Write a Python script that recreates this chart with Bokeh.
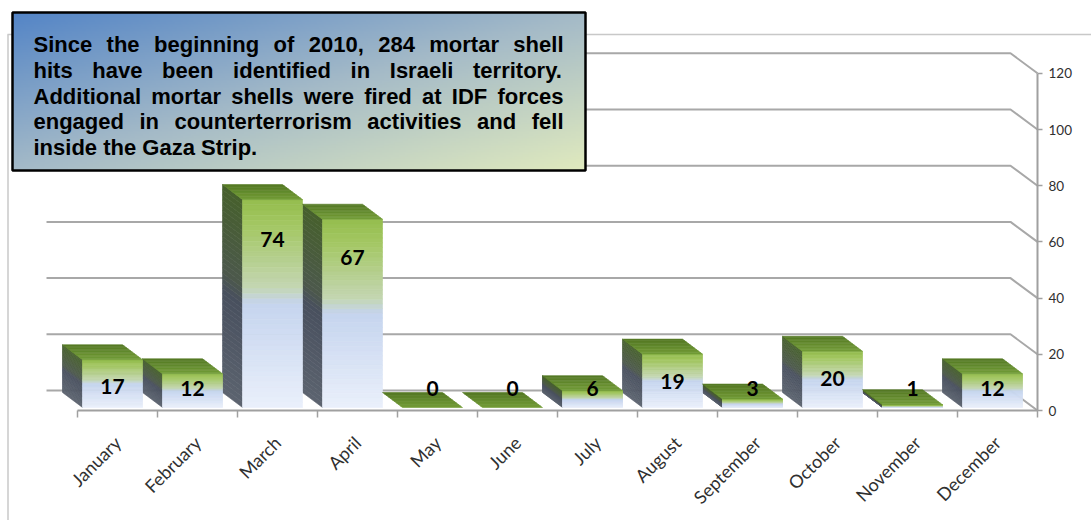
import numpy as np
from bokeh.plotting import figure
from bokeh.models import Range1d, LinearAxis, FixedTicker
from bokeh.core.properties import value
from bokeh.embed import file_html
from bokeh.resources import INLINE

# ---------------- data ----------------
MONTHS = ["January", "February", "March", "April", "May", "June", "July",
          "August", "September", "October", "November", "December"]
HITS = [17, 12, 74, 67, 0, 0, 6, 19, 3, 20, 1, 12]
Y_TICKS = [0, 20, 40, 60, 80, 100, 120]
NOTE_LINES = [
    "Since the beginning of 2010, 284 mortar shell",
    "hits have been identified in Israeli territory.",
    "Additional mortar shells were fired at IDF forces",
    "engaged in counterterrorism activities and fell",
    "inside the Gaza Strip.",
]

# ---------------- layout ----------------
W, H = 1091, 520
PX_X = 80.0     # pixels per category
PX_Y = 2.81     # pixels per unit
X0_PX = 77.0    # canvas x of first category boundary
Y0_PX = 410.0   # canvas y of value 0 on the front plane


def dx(px):
    return px / PX_X


def dy(px):
    return px / PX_Y


def cx(px):
    return (px - X0_PX) / PX_X


def cy(px):
    return (Y0_PX - px) / PX_Y


def mix(stops, f):
    for (p0, c0), (p1, c1) in zip(stops[:-1], stops[1:]):
        if f <= p1:
            t = 0 if p1 == p0 else (f - p0) / (p1 - p0)
            t = min(max(t, 0), 1)
            return tuple(c0[k] + (c1[k] - c0[k]) * t for k in range(3))
    return stops[-1][1]


def hexc(c):
    return "#%02x%02x%02x" % tuple(int(round(v)) for v in c)


p = figure(width=W, height=H, output_backend="svg", toolbar_location=None,
           x_axis_location=None, y_axis_location=None, min_border=0,
           x_range=Range1d(-X0_PX / PX_X, (W - X0_PX) / PX_X),
           y_range=Range1d((Y0_PX - H) / PX_Y, Y0_PX / PX_Y))
p.grid.visible = False
p.outline_line_color = None
p.background_fill_color = "white"
p.border_fill_color = "white"

# chart-area border
p.segment(x0=[cx(7), cx(7.5)], y0=[cy(34), cy(34)],
          x1=[cx(W), cx(7.5)], y1=[cy(34), cy(H)],
          line_color="#c8c8c8", line_width=1.5)

# back wall gridlines with the diagonal return to the front axis
N_CAT = len(MONTHS)
WALL_DX, WALL_DY = dx(-27), dy(20)
gx, gy = [], []
for t in Y_TICKS:
    gx.append([cx(46), N_CAT + WALL_DX, N_CAT])
    gy.append([t + WALL_DY, t + WALL_DY, t])
p.multi_line(gx, gy, line_color="#a8a8a8", line_width=2)

# ---------------- 3D bars ----------------
FRONT = [(0.0, (148, 189, 78)), (0.12, (163, 199, 98)), (0.42, (196, 214, 178)),
         (0.5, (197, 212, 238)), (1.0, (234, 240, 251))]
SIDE = [(0.0, (70, 96, 44)), (0.42, (76, 88, 76)), (0.5, (72, 80, 94)),
        (1.0, (92, 99, 111))]
TOP = [(0.0, (116, 158, 56)), (1.0, (84, 120, 36))]

BAR_OFF = dx(5)
BAR_W = dx(60)
BASE = dy(3)
DEPTH_X, DEPTH_Y = dx(-20), dy(15)
NS = 40
NT = 10

fl, fr, fb, ft, fc = [], [], [], [], []
sx, sy, sc = [], [], []
tx, ty, tc = [], [], []
for i, v in enumerate(HITS):
    xl = i + BAR_OFF
    xr = xl + BAR_W
    top = BASE + v
    if v > 0:
        for k in range(NS):
            ya = BASE + v * k / NS
            yb = BASE + v * (k + 1) / NS
            f = 1 - (k + 0.5) / NS
            fl.append(xl); fr.append(xr); fb.append(ya); ft.append(yb)
            fc.append(hexc(mix(FRONT, f)))
            sx.append([xl, xl, xl + DEPTH_X, xl + DEPTH_X])
            sy.append([ya, yb, yb + DEPTH_Y, ya + DEPTH_Y])
            sc.append(hexc(mix(SIDE, f)))
    for s in range(NT):
        f0, f1 = s / NT, (s + 1) / NT
        tx.append([xl + f0 * DEPTH_X, xr + f0 * DEPTH_X, xr + f1 * DEPTH_X, xl + f1 * DEPTH_X])
        ty.append([top + f0 * DEPTH_Y, top + f0 * DEPTH_Y, top + f1 * DEPTH_Y, top + f1 * DEPTH_Y])
        tc.append(hexc(mix(TOP, (s + 0.5) / NT)))

p.patches(sx, sy, fill_color=sc, line_color=sc, line_width=0.6)
p.quad(left=fl, right=fr, bottom=fb, top=ft, fill_color=fc, line_color=fc, line_width=0.6)
p.patches(tx, ty, fill_color=tc, line_color=tc, line_width=0.6)

# data labels
lab_x = [i + BAR_OFF + BAR_W / 2 for i in range(N_CAT)]
lab_y = [max(0.916 * v - 7.1, 8) for v in HITS]
p.text(x=lab_x, y=lab_y, text=[str(v) for v in HITS],
       text_font=value("Lato"), text_font_style="bold", text_font_size="21px",
       text_color="black", text_align="center", text_baseline="middle")

# ---------------- axes ----------------
centers = [i + 0.5 for i in range(N_CAT)]
xa = LinearAxis(fixed_location=0,
                ticker=FixedTicker(ticks=centers, minor_ticks=list(range(N_CAT + 1))),
                major_label_overrides={c: m for c, m in zip(centers, MONTHS)},
                bounds=(0, N_CAT))
xa.axis_line_color = "#a0a0a0"
xa.axis_line_width = 2
xa.major_tick_line_color = None
xa.minor_tick_line_color = "#a0a0a0"
xa.minor_tick_line_width = 1.5
xa.minor_tick_out = 7
xa.minor_tick_in = 0
xa.major_label_orientation = np.pi / 4
xa.major_label_standoff = 22
xa.major_label_text_font = "Lato"
xa.major_label_text_font_size = "18px"
xa.major_label_text_color = "#303030"
p.add_layout(xa, "below")

ya = LinearAxis(fixed_location=N_CAT, ticker=FixedTicker(ticks=Y_TICKS),
                bounds=(0, Y_TICKS[-1]))
ya.axis_line_color = "#a0a0a0"
ya.axis_line_width = 2
ya.major_tick_line_color = "#a0a0a0"
ya.major_tick_line_width = 1.5
ya.major_tick_out = 5
ya.major_tick_in = 0
ya.minor_tick_line_color = None
ya.major_label_standoff = 6
ya.major_label_text_font = "Lato"
ya.major_label_text_font_size = "13.5px"
ya.major_label_text_color = "#303030"
p.add_layout(ya, "right")

# ---------------- note box ----------------
BL, BR, BT, BB = 12, 585, 12, 170
nx, ny = 300, 90
img = np.empty((ny, nx), dtype=np.uint32)
view = img.view(dtype=np.uint8).reshape((ny, nx, 4))
BOX_STOPS = [(0.0, (84, 133, 198)), (0.5, (164, 186, 200)), (1.0, (224, 234, 190))]
for j in range(ny):
    vv = 1 - j / (ny - 1)          # 0 at the top
    for k in range(nx):
        uu = k / (nx - 1)
        c = mix(BOX_STOPS, (uu + vv) / 2)
        view[j, k, 0] = int(c[0]); view[j, k, 1] = int(c[1]); view[j, k, 2] = int(c[2]); view[j, k, 3] = 255
p.image_rgba(image=[img], x=cx(BL), y=cy(BB), dw=dx(BR - BL), dh=dy(BB - BT))
p.quad(left=[cx(BL)], right=[cx(BR)], top=[cy(BT)], bottom=[cy(BB)],
       fill_alpha=0, line_color="black", line_width=2.5)

# justified note text (Arial/Liberation Sans Bold advance widths, 1/1000 em)
AW = {" ": 278, ",": 278, ".": 278, "A": 722, "D": 722, "F": 611, "G": 778, "I": 278,
      "S": 667, "a": 556, "b": 611, "c": 556, "d": 611, "e": 556, "f": 333, "g": 611,
      "h": 611, "i": 278, "j": 278, "k": 556, "l": 278, "m": 889, "n": 611, "o": 611,
      "p": 611, "q": 611, "r": 389, "s": 556, "t": 333, "u": 611, "v": 556, "w": 778,
      "x": 556, "y": 556, "z": 500}
FS = 22
TL, TR = 33, 563
BASELINES = [44.3, 70, 95.7, 121.3, 147]


def wwidth(w):
    return sum(AW.get(ch, 556) for ch in w) * FS / 1000.0


wx, wy, wt = [], [], []
for li, line in enumerate(NOTE_LINES):
    words = line.split(" ")
    widths = [wwidth(w) for w in words]
    if li < len(NOTE_LINES) - 1 and len(words) > 1:
        gap = (TR - TL - sum(widths)) / (len(words) - 1)
    else:
        gap = AW[" "] * FS / 1000.0
    xpos = TL
    for w, wd in zip(words, widths):
        wx.append(cx(xpos)); wy.append(cy(BASELINES[li])); wt.append(w)
        xpos += wd + gap
p.text(x=wx, y=wy, text=wt, text_font=value("Liberation Sans"), text_font_style="bold",
       text_font_size=f"{FS}px", text_color="black", text_align="left",
       text_baseline="alphabetic")

open("out.html", "w").write(file_html(p, INLINE))
